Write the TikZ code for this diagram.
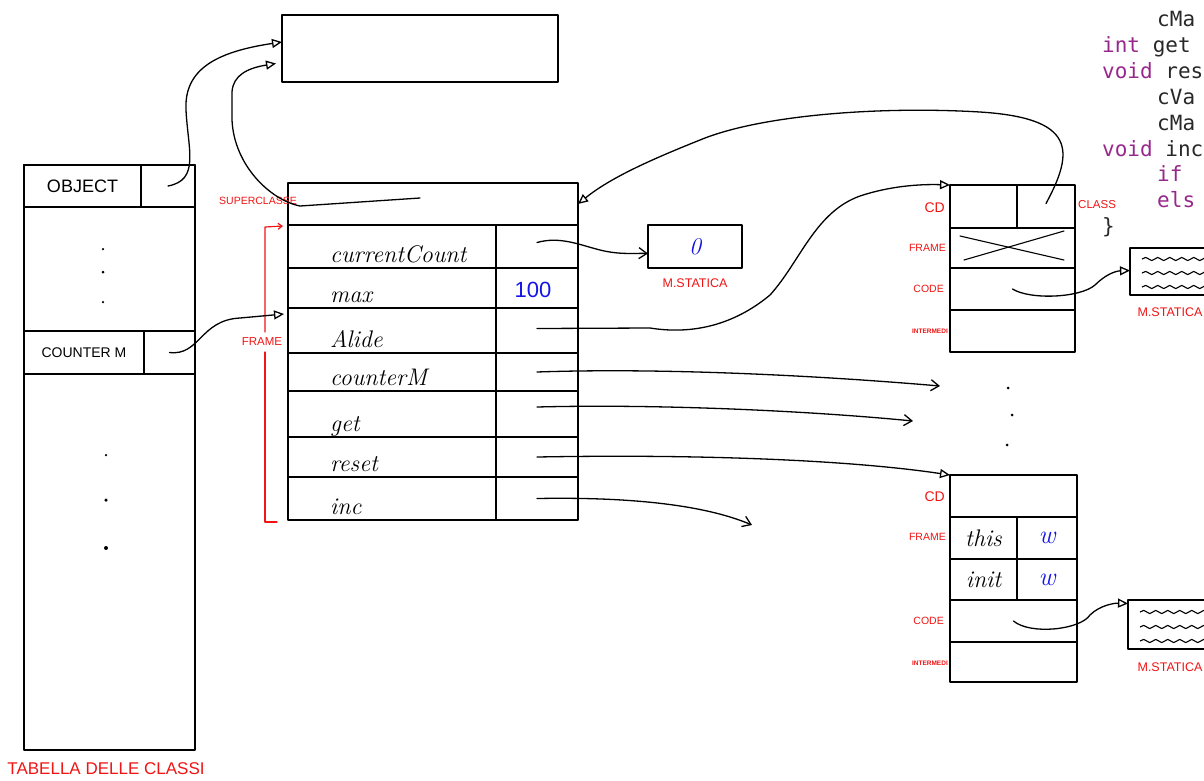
\documentclass[tikz,border=0pt]{standalone}
\usepackage{fontspec}
\usetikzlibrary{arrows.meta,decorations.pathmorphing,calc}
\newfontfamily\monof{DejaVu Sans Mono}
\newfontfamily\sansf{Liberation Sans}
\definecolor{kw}{RGB}{150,40,140}
\definecolor{codegray}{RGB}{40,40,40}
\definecolor{penblue}{RGB}{20,20,230}
\definecolor{penred}{RGB}{240,20,20}
\tikzset{
  ln/.style={line width=1.3pt, line cap=round, line join=round},
  cell/.style={draw, ln, inner sep=0pt, outer sep=0pt, anchor=north west},
  arr/.style={ln, -{Triangle[open, length=10pt, width=9pt]}},
  barb/.style={ln, -{Straight Barb[length=8pt, width=11pt]}},
  redlab/.style={text=penred, font=\sansf\fontsize{10.5}{11}\selectfont, inner sep=0pt},
  hand/.style={font=\itshape\fontsize{24}{26}\selectfont, inner sep=0pt, anchor=base west},
  bluetxt/.style={text=penblue, inner sep=0pt},
  blk/.style={font=\sansf\fontsize{16}{18}\selectfont, inner sep=0pt},
  code/.style={font=\monof\fontsize{21}{25}\selectfont, text=codegray, inner sep=0pt, anchor=base west},
  pdot/.style={fill, circle, inner sep=0pt, minimum size=3.5pt},
  wave/.style={line width=1.1pt, decorate, decoration={snake, amplitude=1.6pt, segment length=12pt}}
}
\begin{document}
\begin{tikzpicture}[x=1pt,y=-1pt]
\useasboundingbox (0,0) rectangle (1204,780);
\clip (0,0) rectangle (1204,780);

% ---------- top (superclass) box ----------
\node[cell, minimum width=276pt, minimum height=67pt] (sc) at (282,15) {};

% ---------- class table ----------
\node[cell, minimum width=171pt, minimum height=585pt] (tab) at (24,165) {};
\node[cell, minimum width=117pt, minimum height=42pt, blk, font=\sansf\fontsize{18}{20}\selectfont] (objn) at (24,165) {OBJECT};
\node[cell, minimum width=54pt, minimum height=42pt] (objp) at (141,165) {};
\node[cell, minimum width=120pt, minimum height=43pt, blk, font=\sansf\fontsize{14}{16}\selectfont] (cmn) at (24,331) {COUNTER M};
\node[cell, minimum width=51pt, minimum height=43pt] (cmp) at (144,331) {};
\node[pdot, minimum size=2.5pt] (d1) at (103,249) {};
\node[pdot, minimum size=3pt] (d2) at (103,272) {};
\node[pdot, minimum size=2.5pt] (d3) at (103,302) {};
\node[pdot, minimum size=2.5pt] (d4) at (106,455) {};
\node[pdot] (d5) at (106,500) {};
\node[pdot, minimum size=4pt] (d6) at (106,548) {};
\node[redlab, font=\sansf\fontsize{17}{18}\selectfont] (tablab) at (106,769) {TABELLA DELLE CLASSI};

% ---------- frame table ----------
\node[cell, minimum width=290pt, minimum height=42pt] (sup) at (288,183) {};
\node[redlab] (suplab) at (258,201) {SUPERCLASSE};
\foreach \i/\t/\h/\lab in {1/225/43/currentCount,2/268/40/max,3/308/45/Alide,4/353/38/counterM,5/391/46/get,6/437/40/reset,7/477/43/inc}{
  \node[cell, minimum width=208pt, minimum height=\h pt] (n\i) at (288,\t) {};
  \node[cell, minimum width=82pt, minimum height=\h pt] (v\i) at (496,\t) {};
  \node[hand] (l\i) at ([xshift=42pt,yshift=6pt]n\i.south west) {\lab};
}
\node[bluetxt, font=\sansf\fontsize{22}{24}\selectfont] (hundred) at (533,290) {100};
\draw[ln, penred, line width=1.2pt, {Straight Barb[length=4pt,width=6pt]}-] (283,226) -- (265,227) -- (265,332);
\draw[ln, penred, line width=1.2pt] (265,352) -- (265,522) -- (277,522);
\node[redlab, font=\sansf\fontsize{11.5}{12}\selectfont] (frlab) at (262,342) {FRAME};

% ---------- static memory box ----------
\node[cell, minimum width=94pt, minimum height=43pt, bluetxt, font=\itshape\fontsize{24}{26}\selectfont] (ms1) at (648,225) {0};
\node[redlab, font=\sansf\fontsize{12.5}{13}\selectfont] (ms1lab) at (695,283) {M.STATICA};

% ---------- upper activation record ----------
\node[cell, minimum width=67pt, minimum height=43pt] (cd1a) at (950,185) {};
\node[cell, minimum width=58pt, minimum height=43pt] (cd1b) at (1017,185) {};
\node[cell, minimum width=125pt, minimum height=40pt] (fr1) at (950,228) {};
\node[cell, minimum width=125pt, minimum height=42pt] (co1) at (950,268) {};
\node[cell, minimum width=125pt, minimum height=42pt] (im1) at (950,310) {};
\draw[ln, line width=1.1pt] (960,236) -- (1064,260);
\draw[ln, line width=1.1pt] (964,260) -- (1064,231);
\node[redlab, anchor=east, font=\sansf\fontsize{14}{15}\selectfont] (cdl1) at (945,208) {CD};
\node[redlab, anchor=east] (frl1) at (946,248) {FRAME};
\node[redlab, anchor=east] (col1) at (944,289) {CODE};
\node[redlab, anchor=east, font=\sansf\bfseries\fontsize{6.5}{7}\selectfont] (iml1) at (948,331) {INTERMEDI};
\node[redlab, anchor=west, font=\sansf\fontsize{11.5}{12}\selectfont] (cll1) at (1078,205) {CLASS};

\node[cell, minimum width=90pt, minimum height=47pt] (ms2) at (1130,248) {};
\draw[wave] (1142,259) -- (1215,259);
\draw[wave] (1142,273) -- (1215,273);
\draw[wave] (1142,287) -- (1215,287);
\node[redlab, font=\sansf\fontsize{12.5}{13}\selectfont] (ms2lab) at (1170,312) {M.STATICA};

% ---------- lower activation record ----------
\node[cell, minimum width=127pt, minimum height=42pt] (cd2) at (950,475) {};
\node[cell, minimum width=67pt, minimum height=42pt, font=\itshape\fontsize{24}{26}\selectfont] (t1) at (950,517) {this};
\node[cell, minimum width=60pt, minimum height=42pt, bluetxt, font=\itshape\fontsize{26}{28}\selectfont] (t2) at (1017,517) {w};
\node[cell, minimum width=67pt, minimum height=41pt, font=\itshape\fontsize{24}{26}\selectfont] (i1) at (950,559) {init};
\node[cell, minimum width=60pt, minimum height=41pt, bluetxt, font=\itshape\fontsize{26}{28}\selectfont] (i2) at (1017,559) {w};
\node[cell, minimum width=127pt, minimum height=42pt] (co2) at (950,600) {};
\node[cell, minimum width=127pt, minimum height=40pt] (im2) at (950,642) {};
\node[redlab, anchor=east, font=\sansf\fontsize{14}{15}\selectfont] (cdl2) at (945,497) {CD};
\node[redlab, anchor=east] (frl2) at (946,537) {FRAME};
\node[redlab, anchor=east] (col2) at (944,621) {CODE};
\node[redlab, anchor=east, font=\sansf\bfseries\fontsize{6.5}{7}\selectfont] (iml2) at (948,663) {INTERMEDI};

\node[cell, minimum width=90pt, minimum height=49pt] (ms3) at (1128,600) {};
\draw[wave] (1140,612) -- (1215,612);
\draw[wave] (1140,627) -- (1215,627);
\draw[wave] (1140,641) -- (1215,641);
\node[redlab, font=\sansf\fontsize{12.5}{13}\selectfont] (ms3lab) at (1170,667) {M.STATICA};

% dots between records
\node[pdot, minimum size=3pt] (e1) at (1008,388) {};
\node[pdot, minimum size=3pt] (e2) at (1012,415) {};
\node[pdot, minimum size=3pt] (e3) at (1007,445) {};

% free ends
\coordinate (f4) at (940,386);
\coordinate (f5) at (913,421);
\coordinate (f7) at (752,525);

% ---------- connectors ----------
\draw[arr] (objp.center) .. controls (200,180) and (188,150) .. (186,110)
   .. controls (184,70) and (215,52) .. ([yshift=6.5pt]sc.west);
\draw[arr] ([xshift=-13pt,yshift=6pt]sup.center) -- (300,206)
   .. controls (270,200) and (234,165) .. (232,120) -- (232,92)
   .. controls (233,75) and (248,68) .. ([xshift=-6pt,yshift=-15pt]sc.west);
\draw[arr] (cmp.center) .. controls (200,356) and (200,320) .. (240,318)
   -- ([xshift=-4pt,yshift=-6pt]n3.north west);
\draw[barb] ([yshift=4pt]v1.center) .. controls (560,236) and (580,245) .. (600,250)
   .. controls (620,255) and (635,253) .. ([yshift=-7pt]ms1.west);
\draw[arr] ([yshift=2pt]v3.center) -- (650,328) .. controls (700,336) and (740,320) .. (770,295)
   .. controls (800,262) and (815,212) .. (860,196) .. controls (890,186) and (920,184) .. (cd1a.north west);
\draw[barb] ([yshift=0pt]v4.center) .. controls (650,368) and (800,374) .. (f4);
\draw[barb] ([yshift=7pt]v5.center) .. controls (650,404) and (800,410) .. (f5);
\draw[arr] (v6.center) .. controls (700,454) and (850,460) .. (cd2.north west);
\draw[barb] (v7.center) .. controls (620,497) and (700,503) .. (f7);
\draw[arr] ([yshift=3pt]cd1b.center) .. controls (1075,150) and (1075,118) .. (980,112)
   .. controls (880,106) and (760,115) .. (700,140)
   .. controls (650,160) and (610,178) .. (sup.east);
\draw[arr] (co1.center) .. controls (1030,300) and (1080,298) .. (1095,285)
   .. controls (1105,275) and (1115,271) .. ([yshift=1pt]ms2.west);
\draw[arr] (co2.center) .. controls (1030,635) and (1080,630) .. (1090,615)
   .. controls (1100,605) and (1115,603) .. ([yshift=21pt]ms3.west);

% ---------- code snippet (as far as it shows at the right edge) ----------
\node[code] (c1) at (1157,26) {cMa};
\node[code] (c2) at (1102,52) {\textcolor{kw}{int} get};
\node[code] (c3) at (1102,78) {\textcolor{kw}{void} res};
\node[code] (c4) at (1157,104) {cVa};
\node[code] (c5) at (1157,130) {cMa};
\node[code] (c6) at (1102,156) {\textcolor{kw}{void} inc};
\node[code] (c7) at (1157,181) {\textcolor{kw}{if}};
\node[code] (c8) at (1157,207) {\textcolor{kw}{els}};
\node[code] (c9) at (1102,233) {\}};
\end{tikzpicture}
\end{document}
